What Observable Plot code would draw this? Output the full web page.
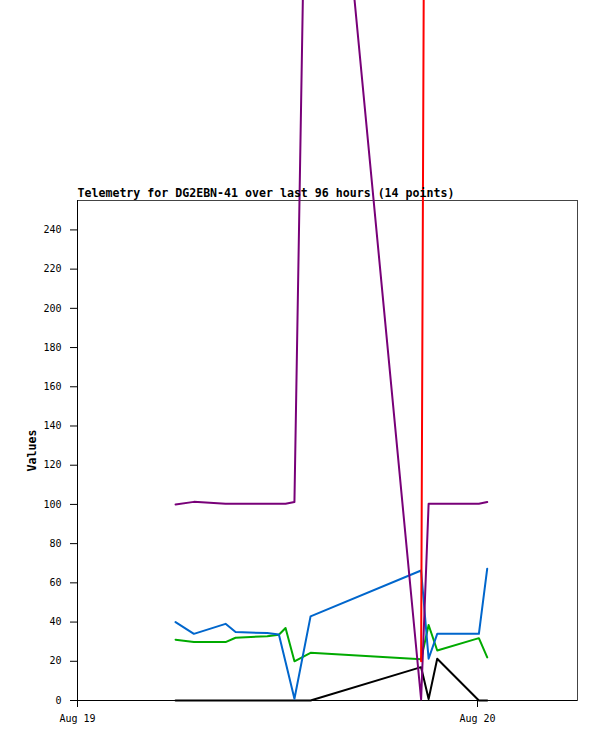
<!DOCTYPE html>
<html>
<head>
<meta charset="utf-8">
<script src="https://cdn.jsdelivr.net/npm/d3@7"></script>
<script src="https://cdn.jsdelivr.net/npm/@observablehq/plot@0.6"></script>
<style>
  html, body { margin: 0; padding: 0; background: #fff; }
  #chart svg { display: block; }
</style>
</head>
<body>
<div id="chart"></div>
<script>
// ---- data ----
const titleText = "Telemetry for DG2EBN-41 over last 96 hours (14 points)";
const yLabel = "Values";
const times = [
  "2023-08-19T05:53Z", "2023-08-19T06:59Z", "2023-08-19T08:53Z", "2023-08-19T09:29Z",
  "2023-08-19T11:23Z", "2023-08-19T12:05Z", "2023-08-19T12:29Z", "2023-08-19T13:01Z",
  "2023-08-19T13:59Z", "2023-08-19T20:37Z", "2023-08-19T21:04Z", "2023-08-19T21:35Z",
  "2023-08-20T00:05Z", "2023-08-20T00:35Z"
];
const seriesBlue   = [40, 34, 39.1, 34.9, 34.4, 33.7, 19.6, 0.9, 42.9, 66.3, 21.3, 34, 34, 67.2];
const seriesGreen  = [31, 29.8, 29.8, 32, 32.8, 33.5, 37, 20, 24.3, 21, 38.5, 25.5, 31.8, 22];
const seriesBlack  = [0, 0, 0, 0, 0, 0, 0, 0, 0, 17, 0.8, 21.3, 0, 0];
const seriesPurple = [100, 101.3, 100.3, 100.3, 100.3, 100.3, 100.3, 101.2, 593, 0.5, 100.3, 100.3, 100.3, 101.2];
const seriesRed    = [null, null, null, null, null, null, null, null, null, 20, 1000, null, null, null];
const yTicks = [0, 20, 40, 60, 80, 100, 120, 140, 160, 180, 200, 220, 240];
const xTickDates = ["2023-08-19T00:00Z", "2023-08-20T00:00Z"];
const xDomain = ["2023-08-19T00:00Z", "2023-08-20T06:00Z"];
const yDomain = [0, 255];

// ---- build ----
const T = times.map(s => new Date(s));
const mono = "DejaVu Sans Mono";

const lineOf = (vals, color) =>
  Plot.line(T, {x: T, y: vals, stroke: color, strokeWidth: 2, curve: "linear"});

const chart = Plot.plot({
  width: 597,
  height: 741,
  marginLeft: 77,
  marginRight: 20,
  marginTop: 200,
  marginBottom: 41,
  style: {fontFamily: mono, fontSize: "10px", color: "#000", background: "#fff"},
  x: {
    type: "utc",
    domain: xDomain.map(s => new Date(s)),
    ticks: xTickDates.map(s => new Date(s)),
    tickFormat: d3.utcFormat("%b %d"),
    tickSize: 7,
    tickPadding: 7,
    label: null
  },
  y: {
    domain: yDomain,
    ticks: yTicks,
    tickSize: 7,
    tickPadding: 9,
    label: null
  },
  marks: [
    Plot.frame({stroke: "#444", strokeWidth: 1}),
    Plot.ruleY([0], {stroke: "#000", strokeWidth: 1}),
    Plot.ruleX([new Date(xDomain[0])], {stroke: "#000", strokeWidth: 1}),
    lineOf(seriesBlack, "#000000"),
    lineOf(seriesGreen, "#00aa00"),
    lineOf(seriesBlue, "#0066cc"),
    lineOf(seriesPurple, "#780078"),
    lineOf(seriesRed, "#ff0000"),
    Plot.text([titleText], {
      frameAnchor: "top-left", textAnchor: "start", lineAnchor: "bottom",
      dy: -3.5, fontWeight: "bold", fontSize: 11.6, fontFamily: mono, fill: "#000"
    }),
    Plot.text([yLabel], {
      frameAnchor: "left", textAnchor: "middle", lineAnchor: "bottom", rotate: -90,
      dx: -42, fontWeight: "bold", fontSize: 11.6, fontFamily: mono, fill: "#000"
    })
  ]
});
document.getElementById("chart").appendChild(chart);
</script>
</body>
</html>
